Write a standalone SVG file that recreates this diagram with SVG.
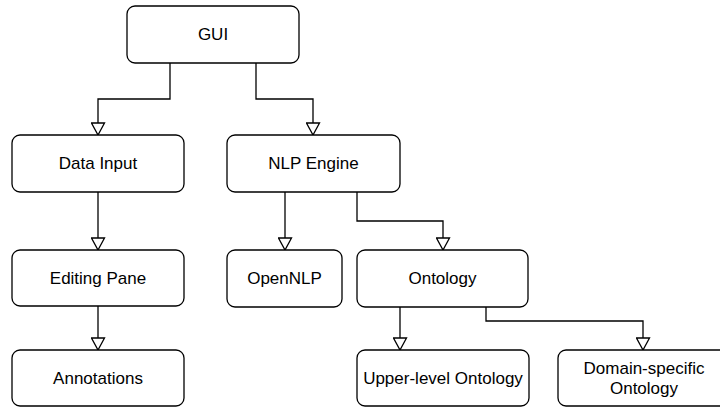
<svg xmlns="http://www.w3.org/2000/svg" width="720" height="408" viewBox="0 0 720 408">
  <style>
    .box { fill: #ffffff; stroke: #000000; stroke-width: 1.3; }
    .label { font-family: "Liberation Sans", Arial, sans-serif; font-size: 17px; fill: #000000; text-anchor: middle; }
    .edge { fill: none; stroke: #000000; stroke-width: 1.3; marker-end: url(#open-arrow); }
  </style>
  <defs>
    <marker id="open-arrow" viewBox="0 0 14 15" refX="13" refY="7.5" markerWidth="14" markerHeight="15" markerUnits="userSpaceOnUse" orient="auto">
      <path d="M1,1 L13,7.5 L1,14 Z" fill="#ffffff" stroke="#000000" stroke-width="1.3"/>
    </marker>
  </defs>
  <rect width="720" height="408" fill="#ffffff"/>

  <g id="connectors">
    <path class="edge" d="M170 63 V99 H98 V135"/>
    <path class="edge" d="M256 63 V99 H313 V135"/>
    <path class="edge" d="M98 192 V250"/>
    <path class="edge" d="M98 306 V350"/>
    <path class="edge" d="M285 192 V250"/>
    <path class="edge" d="M357 192 V221 H443 V250"/>
    <path class="edge" d="M400 307 V350"/>
    <path class="edge" d="M486 307 V321 H643 V350"/>
  </g>

  <g id="gui">
    <rect class="box" x="127" y="6" width="172" height="57" rx="8"/>
    <text class="label" x="213" y="40">GUI</text>
  </g>
  <g id="data-input">
    <rect class="box" x="12" y="135" width="172" height="57" rx="8"/>
    <text class="label" x="98" y="169">Data Input</text>
  </g>
  <g id="nlp-engine">
    <rect class="box" x="227" y="135" width="173" height="57" rx="8"/>
    <text class="label" x="313.5" y="169">NLP Engine</text>
  </g>
  <g id="editing-pane">
    <rect class="box" x="12" y="250" width="172" height="56" rx="8"/>
    <text class="label" x="98" y="284">Editing Pane</text>
  </g>
  <g id="opennlp">
    <rect class="box" x="227" y="250" width="115" height="57" rx="8"/>
    <text class="label" x="284.5" y="284">OpenNLP</text>
  </g>
  <g id="ontology">
    <rect class="box" x="357" y="250" width="171" height="57" rx="8"/>
    <text class="label" x="442.5" y="284">Ontology</text>
  </g>
  <g id="annotations">
    <rect class="box" x="12" y="350" width="172" height="56" rx="8"/>
    <text class="label" x="98" y="384">Annotations</text>
  </g>
  <g id="upper-level-ontology">
    <rect class="box" x="357" y="350" width="172" height="56" rx="8"/>
    <text class="label" x="443" y="384">Upper-level Ontology</text>
  </g>
  <g id="domain-specific-ontology">
    <rect class="box" x="558" y="350" width="200" height="56" rx="8"/>
    <text class="label" x="644" y="374">Domain-specific</text>
    <text class="label" x="644" y="394">Ontology</text>
  </g>
</svg>
